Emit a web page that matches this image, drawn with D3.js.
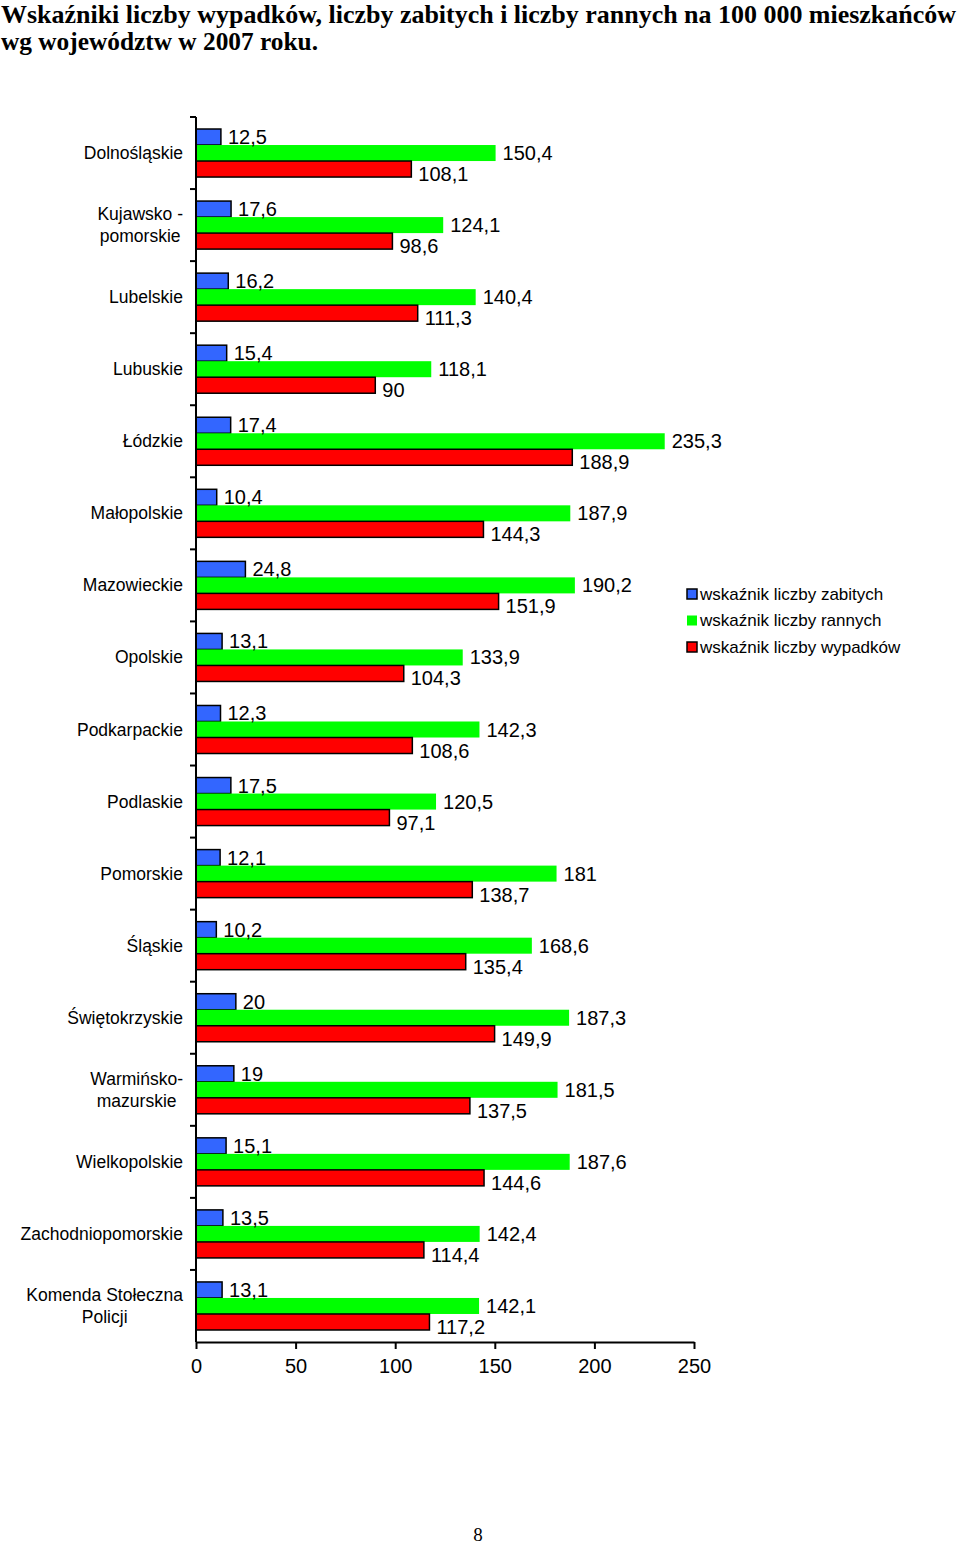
<!DOCTYPE html>
<html><head><meta charset="utf-8">
<script src="https://cdn.jsdelivr.net/npm/d3@7"></script>
<style>body{margin:0;background:#fff}svg{display:block}</style>
</head><body>
<svg id="c" width="960" height="1543"></svg>
<script>
const categories = ["Dolnośląskie","Kujawsko -\npomorskie","Lubelskie","Lubuskie","Łódzkie","Małopolskie","Mazowieckie","Opolskie","Podkarpackie","Podlaskie","Pomorskie","Śląskie","Świętokrzyskie","Warmińsko-\nmazurskie","Wielkopolskie","Zachodniopomorskie","Komenda Stołeczna\nPolicji"];
const zabitych = [12.5,17.6,16.2,15.4,17.4,10.4,24.8,13.1,12.3,17.5,12.1,10.2,20,19,15.1,13.5,13.1];
const rannych = [150.4,124.1,140.4,118.1,235.3,187.9,190.2,133.9,142.3,120.5,181,168.6,187.3,181.5,187.6,142.4,142.1];
const wypadkow = [108.1,98.6,111.3,90,188.9,144.3,151.9,104.3,108.6,97.1,138.7,135.4,149.9,137.5,144.6,114.4,117.2];
const seriesNames = ["wskaźnik liczby zabitych","wskaźnik liczby rannych","wskaźnik liczby wypadków"];
const seriesColors = ["#3366FF","#00FF00","#FF0000"];
const xTicks = [0,50,100,150,200,250];
const titleLines = ["Wskaźniki liczby wypadków, liczby zabitych i liczby rannych na 100 000 mieszkańców","wg województw w 2007 roku."];

const series = [zabitych, rannych, wypadkow];
const svg = d3.select("#c");
const sans = "Liberation Sans, Arial, sans-serif";
const serif = "Liberation Serif, Times New Roman, serif";

// title
svg.append("text").attr("x",1).attr("y",23).attr("font-family",serif)
  .attr("font-weight","bold").attr("font-size",26).attr("textLength",955).attr("lengthAdjust","spacingAndGlyphs")
  .text(titleLines[0]);
svg.append("text").attr("x",1).attr("y",50).attr("font-family",serif)
  .attr("font-weight","bold").attr("font-size",26).attr("textLength",317).attr("lengthAdjust","spacingAndGlyphs")
  .text(titleLines[1]);

const x = d3.scaleLinear().domain([0,250]).range([196,694]);
const y = d3.scaleBand().domain(d3.range(categories.length)).range([117,1342]).padding(0);
const sub = d3.scaleBand().domain([0,1,2]).range([0,y.bandwidth()]).paddingInner(0).paddingOuter(0.75);

// bars
series.forEach((vals,si)=>{
  svg.append("g").selectAll("rect").data(vals).join("rect")
    .attr("x",x(0)).attr("y",(d,i)=>y(i)+sub(si))
    .attr("width",d=>x(d)-x(0)).attr("height",sub.bandwidth())
    .attr("fill",seriesColors[si])
    .attr("stroke",si===1?"none":"#000").attr("stroke-width",1.5);
});
const fmt = v => String(v).replace(".",",");
const dyOff = [0,0,5];
series.forEach((vals,si)=>{
  svg.append("g").selectAll("text").data(vals).join("text")
    .attr("x",d=>x(d)+7).attr("y",(d,i)=>y(i)+sub(si)+sub.bandwidth()/2+dyOff[si])
    .attr("dominant-baseline","central").attr("font-family",sans).attr("font-size",20)
    .text(fmt);
});

// y axis
svg.append("line").attr("x1",196).attr("x2",196).attr("y1",y(0)).attr("y2",1342).attr("stroke","#000").attr("stroke-width",2);
svg.append("g").selectAll("line").data(d3.range(categories.length)).join("line")
  .attr("x1",190).attr("x2",196).attr("y1",i=>y(i)).attr("y2",i=>y(i)).attr("stroke","#000").attr("stroke-width",2);

// category labels
categories.forEach((c,i)=>{
  const lines = c.split("\n");
  const cy = y(i)+y.bandwidth()/2;
  const t = svg.append("text").attr("font-family",sans).attr("font-size",17.5).attr("dominant-baseline","central");
  if(lines.length===1){
    t.attr("x",183).attr("y",cy).attr("text-anchor","end").text(c);
  } else {
    t.attr("text-anchor","middle");
    const ts = lines.map((l,k)=>t.append("tspan").attr("y",cy+(k-0.5)*22).text(l));
    const w = d3.max(ts,s=>s.node().getComputedTextLength());
    ts.forEach(s=>s.attr("x",183-w/2));
  }
});

// x axis
const xa = svg.append("g").attr("transform","translate(0,1342)")
  .call(d3.axisBottom(x).tickValues(xTicks).tickSize(7).tickSizeOuter(0).tickFormat(d3.format("d")));
xa.select(".domain").attr("stroke-width",2);
xa.selectAll(".tick line").attr("stroke-width",2);
xa.selectAll(".tick text").attr("font-family",sans).attr("font-size",20).attr("y",17).attr("dy","0.71em").attr("fill","#000");

// legend
const lg = svg.append("g");
seriesNames.forEach((n,k)=>{
  const ly = 594 + k*26.5;
  lg.append("rect").attr("x",687).attr("y",ly-5).attr("width",10).attr("height",10)
    .attr("fill",seriesColors[k]).attr("stroke",k===1?"none":"#000").attr("stroke-width",1.5);
  lg.append("text").attr("x",700).attr("y",ly).attr("dominant-baseline","central")
    .attr("font-family",sans).attr("font-size",17).text(n);
});

// page number
svg.append("text").attr("x",478).attr("y",1534).attr("text-anchor","middle").attr("dominant-baseline","central")
  .attr("font-family",serif).attr("font-size",19).text("8");
</script>
</body></html>
